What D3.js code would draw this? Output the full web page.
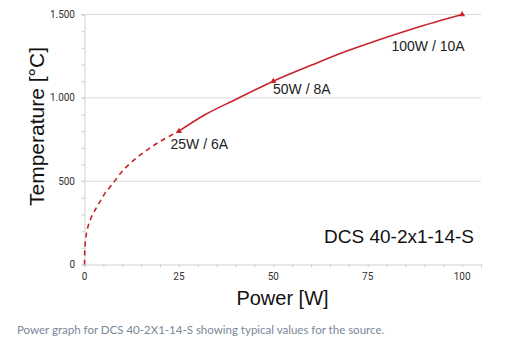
<!DOCTYPE html>
<html><head><meta charset="utf-8">
<script src="https://cdn.jsdelivr.net/npm/d3@7"></script>
<style>
html,body{margin:0;padding:0;background:#fff;}
svg{display:block;}
</style></head>
<body>
<script>
// ---- data ----
const xTicks = [0, 25, 50, 75, 100];
const yTicks = [0, 500, 1000, 1500];
const yTickLabels = ["0", "500", "1.000", "1.500"];
const dashedPower = [0, 0.13, 0.6, 1.5, 2.8, 4.1, 5.4, 7.2, 10.3, 13.8, 17.4, 20.9, 25];
const dashedTemp  = [0, 107, 197, 267, 327, 377, 427, 477, 567, 640, 700, 750, 800];
const solidPower = [25, 32, 40, 50, 60, 70, 87, 100];
const solidTemp  = [800, 900, 990, 1100, 1195, 1285, 1415, 1500];
const markerPower = [25, 50, 100];
const markerTemp  = [800, 1100, 1500];
const markerLabels = ["25W / 6A", "50W / 8A", "100W / 10A"];
const modelName = "DCS 40-2x1-14-S";
const xTitle = "Power [W]";
const yTitle = "Temperature [°C]";
const caption = "Power graph for DCS 40-2X1-14-S showing typical values for the source.";

const W = 513, H = 349;
const svg = d3.select("body").append("svg").attr("width", W).attr("height", H);

const x = d3.scaleLinear().domain([0, 105]).range([84.5, 481]);
const y = d3.scaleLinear().domain([0, 1500]).range([264.5, 14.5]);

const grid = "#d9d9d9";
svg.append("g").selectAll("line").data(yTicks.filter(d => d > 0)).join("line")
  .attr("x1", x(0) - 3).attr("x2", x(105))
  .attr("y1", d => y(d)).attr("y2", d => y(d))
  .attr("stroke", grid).attr("stroke-width", 1);

// y axis
const yAxis = d3.axisLeft(y).tickValues(d3.range(0, 1501, 100)).tickSize(3)
  .tickFormat(() => "");
const gy = svg.append("g").attr("transform", `translate(${x(0)},0)`).call(yAxis);
gy.select(".domain").attr("stroke", "#cfcfcf");
gy.selectAll(".tick line").attr("stroke", "#cfcfcf");
svg.append("g").selectAll("text").data(yTicks).join("text")
  .attr("x", 75).attr("y", d => y(d) + 3.5)
  .attr("text-anchor", "end")
  .attr("font-family", "Roboto, sans-serif").attr("font-size", 10).attr("fill", "#333")
  .text((d, i) => yTickLabels[i]);

// x axis
const xAxis = d3.axisBottom(x).tickValues(d3.range(0, 106, 5)).tickSize(3)
  .tickFormat(() => "");
const gx = svg.append("g").attr("transform", `translate(0,${y(0)})`).call(xAxis);
gx.select(".domain").attr("stroke", "#cfcfcf");
gx.selectAll(".tick line").attr("stroke", "#cfcfcf");
svg.append("g").selectAll("text").data(xTicks).join("text")
  .attr("x", d => x(d)).attr("y", 279.5)
  .attr("text-anchor", "middle")
  .attr("font-family", "Roboto, sans-serif").attr("font-size", 10).attr("fill", "#333")
  .text(d => d);

// curves
const red = "#c8232c";
const line = d3.line().x(d => x(d[0])).y(d => y(d[1])).curve(d3.curveCatmullRom.alpha(0.5));
svg.append("path").datum(dashedPower.map((p, i) => [p, dashedTemp[i]]))
  .attr("d", line).attr("fill", "none").attr("stroke", red)
  .attr("stroke-width", 1.6).attr("stroke-dasharray", "5,4");
svg.append("path").datum(solidPower.map((p, i) => [p, solidTemp[i]]))
  .attr("d", line).attr("fill", "none").attr("stroke", red)
  .attr("stroke-width", 1.6);

// markers
svg.append("g").selectAll("path").data(markerPower).join("path")
  .attr("d", d3.symbol(d3.symbolTriangle, 16))
  .attr("transform", (d, i) => `translate(${x(d)},${y(markerTemp[i])})`)
  .attr("fill", red);

// marker labels
const lblPos = [[170.5, 149], [273, 94], [391.5, 50.5]];
svg.append("g").selectAll("text").data(markerLabels).join("text")
  .attr("x", (d, i) => lblPos[i][0]).attr("y", (d, i) => lblPos[i][1])
  .attr("font-family", "Liberation Sans, Arial, sans-serif").attr("font-size", 14)
  .attr("fill", "#222").text(d => d);

svg.append("text").attr("x", 474).attr("y", 242.5).attr("text-anchor", "end")
  .attr("font-family", "Liberation Sans, Arial, sans-serif").attr("font-size", 19)
  .attr("fill", "#111").text(modelName);

// axis titles
svg.append("text").attr("x", 282.5).attr("y", 304.5).attr("text-anchor", "middle")
  .attr("font-family", "Liberation Sans, Arial, sans-serif").attr("font-size", 20)
  .attr("fill", "#111").text(xTitle);
svg.append("text").attr("transform", "translate(43.5,126.5) rotate(-90)")
  .attr("text-anchor", "middle")
  .attr("font-family", "Liberation Sans, Arial, sans-serif").attr("font-size", 21)
  .attr("fill", "#111").text(yTitle);

// caption
svg.append("text").attr("x", 17).attr("y", 334)
  .attr("font-family", "Lato, sans-serif").attr("font-size", 11.5)
  .attr("fill", "#7a8799").text(caption);
</script>
</body></html>
